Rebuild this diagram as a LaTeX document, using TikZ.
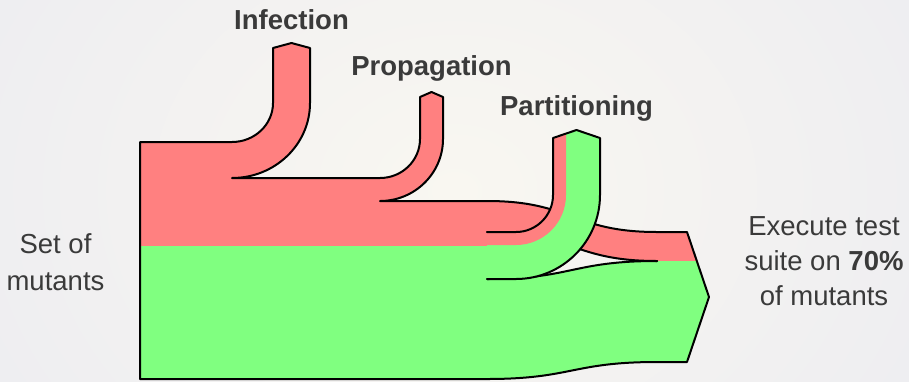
\documentclass[tikz,border=0pt]{standalone}
\usepackage{fontspec}
\setmainfont{Liberation Sans}
\definecolor{flowred}{RGB}{255,128,128}
\definecolor{flowgreen}{RGB}{128,255,128}
\definecolor{labelgray}{RGB}{58,58,58}
\definecolor{bgout}{RGB}{236,236,241}
\definecolor{bgin}{RGB}{249,247,241}
\tikzset{
  outline/.style={draw=black, line width=2pt, line join=round, line cap=round},
  labeltext/.style={text=labelgray, inner sep=0pt, font=\fontsize{27.5}{35}\selectfont},
  stagelabel/.style={labeltext, font=\fontsize{27.5}{35}\selectfont\bfseries},
}
\begin{document}
\begin{tikzpicture}[x=1pt, y=-1pt]
\useasboundingbox (0,0) rectangle (909,381);
\shade[inner color=bgin, outer color=bgout] (-150,-300) rectangle (1059,681);
% --- red region (top band)
\fill[flowred] (140,246) -- (140,142) -- (232,142)
  .. controls (254.6,142) and (273,124.5) .. (273,103) -- (273,48) -- (291.5,43) -- (310,48) -- (310,103)
  .. controls (310,144.4) and (275.1,178) .. (232,178) -- (380,178)
  .. controls (402.1,178) and (420,160.5) .. (420,139) -- (420,97) -- (431.5,92) -- (443,97) -- (443,139)
  .. controls (443,173.2) and (414.8,201) .. (380,201) -- (487,201)
  .. controls (572,201) and (572,232) .. (657,232) -- (687,232) -- (696.8,261) -- (657,261)
  .. controls (572,261) and (572,232) .. (487,232) -- (487,246) -- cycle;
% --- green region (bottom band)
\fill[flowgreen] (140,246) -- (487,246) -- (487,279)
  .. controls (572,279) and (572,261) .. (657,261) -- (696.8,261) -- (709,297) -- (687,362) -- (657,362)
  .. controls (572,362) and (572,379) .. (487,379) -- (140,379) -- cycle;
% --- outlines of main flow
\draw[outline] (140,379) -- (140,142) -- (232,142)
  .. controls (254.6,142) and (273,124.5) .. (273,103) -- (273,48) -- (291.5,43) -- (310,48) -- (310,103)
  .. controls (310,144.4) and (275.1,178) .. (232,178) -- (380,178)
  .. controls (402.1,178) and (420,160.5) .. (420,139) -- (420,97) -- (431.5,92) -- (443,97) -- (443,139)
  .. controls (443,173.2) and (414.8,201) .. (380,201) -- (487,201)
  .. controls (572,201) and (572,232) .. (657,232) -- (687,232) -- (709,297) -- (687,362) -- (657,362)
  .. controls (572,362) and (572,379) .. (487,379) -- cycle;
\draw[outline] (487,232) .. controls (572,232) and (572,261) .. (657,261);
\draw[outline] (487,279) .. controls (572,279) and (572,261) .. (657,261);
% --- partitioning pipe
\fill[flowgreen] (487,232) -- (516,232) .. controls (536.4,232) and (553,215.4) .. (553,195)
  -- (553,138) -- (576.5,130) -- (600,138) -- (600,195)
  .. controls (600,241.4) and (562.4,279) .. (516,279) -- (487,279) -- cycle;
\fill[flowred] (487,232) -- (516,232) .. controls (536.4,232) and (553,215.4) .. (553,195)
  -- (553,138) -- (566,133.6) -- (566,195)
  .. controls (566,222.6) and (543.6,245) .. (516,245) -- (487,245) -- cycle;
\draw[outline] (487,232) -- (516,232) .. controls (536.4,232) and (553,215.4) .. (553,195)
  -- (553,138) -- (576.5,130) -- (600,138) -- (600,195)
  .. controls (600,241.4) and (562.4,279) .. (516,279) -- (487,279);
% --- labels
\node[stagelabel, anchor=base] (infection) at (291.5,29) {Infection};
\node[stagelabel, anchor=base] (propagation) at (431.5,75) {Propagation};
\node[stagelabel, anchor=base] (partitioning) at (576.5,115) {Partitioning};
\node[labeltext, anchor=base, align=center, font=\fontsize{27.5}{37}\selectfont] (source) at (55.5,290) {Set of\\mutants};
\node[labeltext, anchor=base, align=center] (sink) at (824,305) {Execute test\\suite on \textbf{70\%}\\of mutants};
\end{tikzpicture}
\end{document}
